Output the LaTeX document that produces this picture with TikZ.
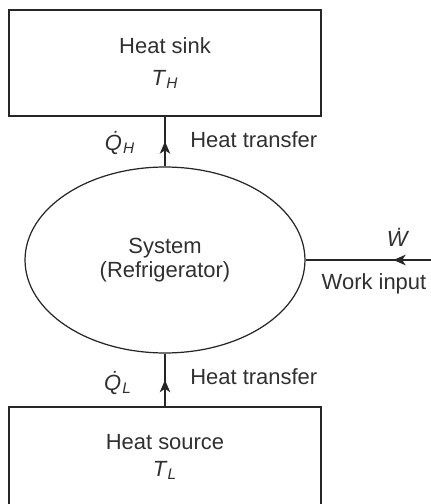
\documentclass[tikz,border=0pt]{standalone}
\usepackage{fontspec}
\setmainfont{Liberation Sans}
\usetikzlibrary{shapes.geometric,arrows.meta,decorations.markings}
\definecolor{FridgeLine}{HTML}{262626}
\definecolor{FridgeText}{HTML}{303030}

\begin{document}
\begin{tikzpicture}[x=0.02cm,y=-0.02cm,
    every node/.style={font=\fontsize{12.5}{15}\selectfont,text=FridgeText},
    reservoir/.style={draw=FridgeLine,line width=0.7pt,minimum width=6.24cm,inner sep=0pt,align=center},
    flow/.style={draw=FridgeLine,line width=0.7pt,postaction={decorate},
      decoration={markings,mark=at position #1 with {\arrow{Stealth[length=7pt,width=6pt,inset=2pt]}}}},
    tag/.style={inner sep=0pt}]
  \clip (0,0) rectangle (431,504);
  % reservoirs and the system
  \node[reservoir,minimum height=2.12cm] (sink) at (165,63) {Heat sink\\[3.4pt]\textit{T}\textsubscript{\textit{H}}};
  \node[reservoir,minimum height=2cm] (source) at (165,457) {Heat source\\\textit{T}\textsubscript{\textit{L}}};
  \node[draw=FridgeLine,line width=0.7pt,ellipse,minimum width=5.6cm,minimum height=3.72cm,inner sep=0pt,
    align=center,font=\fontsize{12.5}{14}\selectfont] (sys) at (165,260) {System\\(Refrigerator)};
  \coordinate (wsrc) at (431,260);
  % energy flows
  \draw[flow=0.5] (sys.north) -- (sink.south);
  \draw[flow=0.5] (source.north) -- (sys.south);
  \draw[flow=0.3] (wsrc) -- (sys.east);
  % labels
  \node[tag] (qh) at (120,143) {\textit{\.{Q}}\textsubscript{\textit{H}}};
  \node[tag,anchor=west] (hth) at (190,140) {Heat transfer};
  \node[tag] (ql) at (118,383) {\textit{\.{Q}}\textsubscript{\textit{L}}};
  \node[tag,anchor=west] (htl) at (190,377) {Heat transfer};
  \node[tag] (wdot) at (398,237) {\textit{\.{W}}};
  \node[tag] (win) at (374,284) {Work input};
\end{tikzpicture}
\end{document}
